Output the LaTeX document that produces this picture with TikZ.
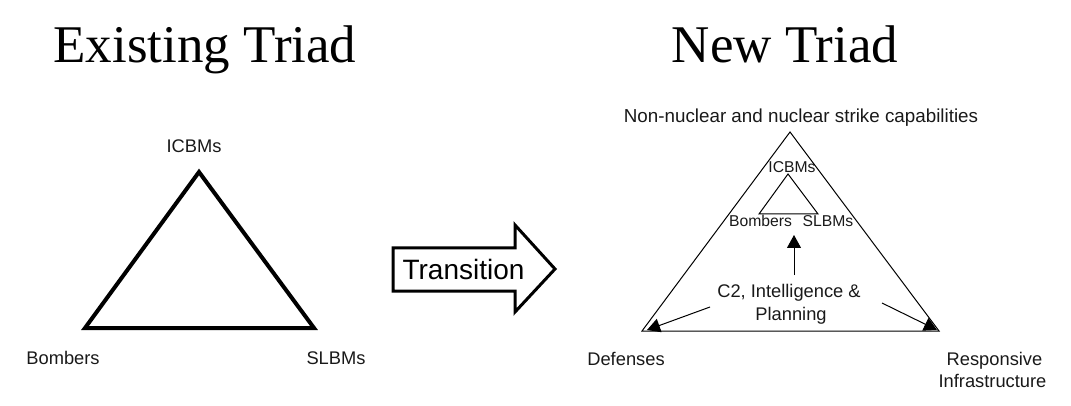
\documentclass[tikz,border=0pt]{standalone}
\usepackage{fontspec}
\setmainfont{Liberation Sans}
\newfontfamily\titlefont{Liberation Serif}
\usetikzlibrary{arrows.meta}
\tikzset{
  title/.style={font=\titlefont\fontsize{53}{60}\selectfont, anchor=base, inner sep=0pt},
  lbl/.style={font=\fontsize{18.3}{22}\selectfont, anchor=base, inner sep=0pt, text=black!90},
  small/.style={font=\fontsize{15.7}{19}\selectfont, anchor=base, inner sep=0pt, text=black!90},
  thick tri/.style={line width=4pt, line join=miter},
  thin tri/.style={line width=1pt},
  feed/.style={line width=1pt, -{Triangle[width=14pt,length=13pt]}}
}
\begin{document}
\begin{tikzpicture}[x=1pt,y=-1pt]
\useasboundingbox (0,0) rectangle (1071,406);
% titles
\node[title] (t1) at (205,63) {Existing Triad};
\node[title] (t2) at (785,63) {New Triad};
% existing triad
\coordinate (A) at (199,172);
\coordinate (B) at (85,328);
\coordinate (C) at (314,328);
\draw[thick tri] (A) -- (B) -- (C) -- cycle;
\node[lbl] (icbm) at (194,153) {ICBMs};
\node[lbl] (bomb) at (63,364) {Bombers};
\node[lbl] (slbm) at (336,364) {SLBMs};
% transition arrow
\draw[line width=3pt, line join=miter] (393,248) -- (515,248) -- (515,225) -- (555,269) -- (515,312) -- (515,291) -- (393,291) -- cycle;
\node[font=\fontsize{28}{32}\selectfont, anchor=base, inner sep=0pt] (tr) at (463.5,279) {Transition};
% new triad
\coordinate (P) at (790,132);
\coordinate (Q) at (642,331);
\coordinate (R) at (939,331);
\draw[thin tri] (P) -- (Q) -- (R) -- cycle;
\coordinate (p) at (788,174);
\coordinate (q) at (759,214);
\coordinate (r) at (818,214);
\draw[thin tri] (p) -- (q) -- (r) -- cycle;
\node[lbl, font=\fontsize{18.8}{22}\selectfont] (top) at (801,123) {Non-nuclear and nuclear strike capabilities};
\node[small] (icbm2) at (792,173) {ICBMs};
\node[small] (bomb2) at (760.5,227) {Bombers};
\node[small] (slbm2) at (828,227) {SLBMs};
\node[lbl] (c2a) at (789,297) {C2, Intelligence \&};
\node[lbl] (c2b) at (791,320) {Planning};
\node[lbl] (def) at (626,365) {Defenses};
\node[lbl] (resp) at (994.5,365) {Responsive};
\node[lbl] (infra) at (992.5,387) {Infrastructure};
\coordinate (s1) at (794,275);
\coordinate (e1) at (794,235);
\coordinate (s2) at (710,307);
\coordinate (e2) at (647,330);
\coordinate (s3) at (882,303);
\coordinate (e3) at (937,330);
\draw[feed] (s1) -- (e1);
\draw[feed] (s2) -- (e2);
\draw[feed] (s3) -- (e3);
\end{tikzpicture}
\end{document}
